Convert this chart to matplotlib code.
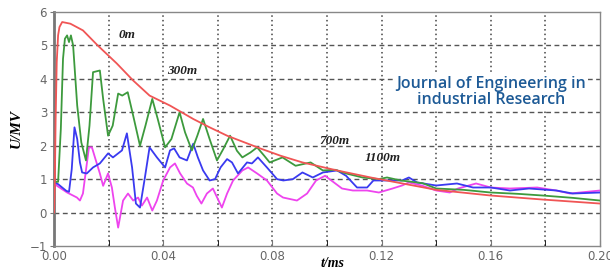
import matplotlib
matplotlib.use("Agg")
import matplotlib.pyplot as plt
import numpy as np

# ---------------- data ----------------
t_red = [0.0, 0.0003, 0.0006, 0.001, 0.0015, 0.002, 0.003, 0.006, 0.0106, 0.016, 0.023,
         0.029, 0.035, 0.0425, 0.051, 0.057, 0.0634, 0.0755, 0.083, 0.091, 0.1037,
         0.116, 0.127, 0.14, 0.16, 0.179, 0.2]
u_red = [0.0, 0.9, 2.8, 4.5, 5.3, 5.55, 5.7, 5.65, 5.45, 5.0, 4.46,
         3.95, 3.5, 3.2, 2.8, 2.55, 2.3, 1.92, 1.7, 1.5, 1.26,
         1.05, 0.88, 0.68, 0.51, 0.39, 0.27]

t_green = [0.0, 0.0015, 0.0025, 0.0033, 0.004, 0.0048, 0.0055, 0.0062, 0.007, 0.0085,
           0.010, 0.0117, 0.013, 0.0143, 0.0168, 0.018, 0.0198, 0.0215, 0.0235, 0.025,
           0.027, 0.029, 0.0315, 0.0335, 0.036, 0.038, 0.0407, 0.043, 0.046, 0.048,
           0.0505, 0.0525, 0.0546, 0.057, 0.0597, 0.062, 0.0645, 0.067, 0.069, 0.072,
           0.0744, 0.077, 0.079, 0.0837, 0.0885, 0.094, 0.0985, 0.103, 0.107, 0.113,
           0.119, 0.122, 0.127, 0.135, 0.14, 0.15, 0.16, 0.17, 0.179, 0.19, 0.2]
u_green = [0.92, 0.92, 2.5, 4.6, 5.2, 5.3, 5.1, 5.3, 5.0, 3.2,
           2.1, 1.56, 2.6, 4.2, 4.25, 3.4, 2.3, 2.6, 3.56, 3.5,
           3.6, 2.9, 2.0, 2.6, 3.4, 2.8, 1.95, 2.2, 3.0, 2.4,
           1.86, 2.3, 2.8, 2.2, 1.56, 1.9, 2.3, 1.85, 1.65, 1.8,
           1.95, 1.7, 1.5, 1.65, 1.4, 1.5, 1.26, 1.28, 1.17, 1.05,
           1.0, 1.05, 0.96, 0.88, 0.72, 0.68, 0.6, 0.56, 0.51, 0.44, 0.36]

t_blue = [0.0, 0.0015, 0.0045, 0.0055, 0.0065, 0.0075, 0.0085, 0.0095, 0.0103, 0.012,
          0.0143, 0.0168, 0.0198, 0.0216, 0.0249, 0.0267, 0.0286, 0.030, 0.0315, 0.0333,
          0.035, 0.0377, 0.0407, 0.0425, 0.044, 0.046, 0.0487, 0.051, 0.0527, 0.0546,
          0.057, 0.0590, 0.061, 0.0634, 0.0652, 0.0674, 0.0707, 0.0725, 0.0747, 0.078,
          0.0817, 0.084, 0.0875, 0.091, 0.0948, 0.0985, 0.1037, 0.107, 0.111, 0.1147,
          0.117, 0.122, 0.1275, 0.13, 0.1330, 0.14, 0.1476, 0.1535, 0.16, 0.167,
          0.174, 0.184, 0.190, 0.2]
u_blue = [0.92, 0.85, 0.65, 0.62, 1.3, 2.55, 2.2, 1.5, 1.2, 1.17,
          1.35, 1.47, 1.77, 1.65, 1.86, 2.37, 1.35, 0.27, 0.15, 1.05,
          1.95, 1.65, 1.35, 1.86, 1.92, 1.65, 1.56, 2.06, 1.65, 1.26,
          0.96, 1.0, 1.35, 1.6, 1.5, 1.17, 1.5, 1.47, 1.65, 1.35,
          1.0, 0.96, 1.0, 1.2, 1.05, 1.2, 1.26, 1.1, 0.75, 0.75,
          0.96, 0.96, 0.96, 1.05, 0.9, 0.81, 0.87, 0.75, 0.75, 0.66,
          0.72, 0.66, 0.57, 0.6]

t_mag = [0.0, 0.0011, 0.0048, 0.0084, 0.0095, 0.0106, 0.0117, 0.0128, 0.0139, 0.015,
         0.0168, 0.018, 0.0198, 0.0212, 0.0223, 0.0235, 0.0253, 0.0271, 0.029, 0.0308,
         0.0322, 0.0341, 0.036, 0.0377, 0.04, 0.0425, 0.0443, 0.0462, 0.0487, 0.0509,
         0.0523, 0.054, 0.0560, 0.0582, 0.0615, 0.0634, 0.0656, 0.069, 0.0711, 0.0744,
         0.0780, 0.0817, 0.0839, 0.089, 0.0927, 0.096, 0.0993, 0.1055, 0.1095, 0.1147,
         0.119, 0.124, 0.1275, 0.13, 0.135, 0.14, 0.145, 0.148, 0.1546, 0.16,
         0.167, 0.177, 0.184, 0.189, 0.2]
u_mag = [0.95, 0.8, 0.6, 0.45, 0.36, 0.57, 1.26, 1.95, 1.95, 1.65,
         1.17, 0.8, 1.17, 0.75, 0.15, -0.45, 0.36, 0.57, 0.36, 0.45,
         0.21, 0.45, 0.06, 0.36, 0.96, 1.35, 1.47, 1.17, 0.87, 0.75,
         0.5, 0.27, 0.57, 0.72, 0.15, 0.57, 0.96, 1.26, 1.35, 1.17,
         0.96, 0.57, 0.45, 0.36, 0.57, 0.96, 1.1, 0.72, 0.66, 0.66,
         0.6, 0.72, 0.81, 0.9, 0.8, 0.66, 0.6, 0.72, 0.87, 0.75,
         0.72, 0.75, 0.66, 0.57, 0.66]

labels = ["0m", "300m", "700m", "1100m"]
label_t = [0.0267, 0.047, 0.1026, 0.1205]
label_u = [5.3, 4.25, 2.15, 1.62]

xticks = [0.0, 0.04, 0.08, 0.12, 0.16, 0.20]
xtick_labels = ["0.00", "0.04", "0.08", "0.12", "0.16", "0.20"]
yticks = [-1, 0, 1, 2, 3, 4, 5, 6]

# ---------------- figure ----------------
fig = plt.figure(figsize=(6.1, 2.69), dpi=100)
ax = fig.add_axes([54 / 610, 1 - 246 / 269, 546 / 610, 234 / 269])

ax.set_xlim(0, 0.2)
ax.set_ylim(-1, 6)

# grid
for xv in np.arange(0.02, 0.2, 0.02):
    ax.axvline(xv, color="#444444", lw=1.1, ls=(0, (1, 2)), zorder=1)
for yv in range(0, 6):
    ax.axhline(yv, color="#555555", lw=1.0, ls=(0, (3.5, 2.5)), zorder=1)

ax.plot(t_mag, u_mag, color="#ee44ee", lw=1.3, zorder=3)
ax.plot(t_blue, u_blue, color="#3a3af0", lw=1.3, zorder=4)
ax.plot(t_green, u_green, color="#3d9a3d", lw=1.3, zorder=5)
ax.plot(t_red, u_red, color="#f05555", lw=1.3, zorder=6)

for s, tx, uy in zip(labels, label_t, label_u):
    ax.text(tx, uy, s, fontsize=9.5, fontweight="bold", fontstyle="italic",
            family="Liberation Serif", ha="center", va="center", color="#222222", zorder=7)

ax.text(0.160, 3.62, "Journal of Engineering in\nindustrial Research",
        fontsize=11.5, family="Open Sans", fontweight=600, color="#1d5a96",
        ha="center", va="center", linespacing=1.0, zorder=8,
        bbox=dict(facecolor="white", edgecolor="none", pad=1.5))

ax.set_xticks(xticks)
ax.set_xticklabels(xtick_labels)
ax.set_xticks(np.arange(0.02, 0.2, 0.04), minor=True)
ax.set_yticks(yticks)
ax.tick_params(axis="both", labelsize=8.5, labelcolor="#666666", color="#777777")
ax.tick_params(axis="x", direction="in", length=4, pad=3)
ax.tick_params(axis="x", which="minor", direction="in", length=4)
ax.tick_params(axis="y", direction="out", length=3, pad=2)

for side in ["top", "right", "bottom"]:
    ax.spines[side].set_color("#888888")
    ax.spines[side].set_linewidth(1.0)
ax.spines["left"].set_color("#777777")
ax.spines["left"].set_linewidth(2.0)

ax.set_ylabel("U/MV", fontsize=11, fontweight="bold", fontstyle="italic",
              family="Liberation Serif", labelpad=5)
fig.text(0.545, -0.005, "t/ms", fontsize=10, fontweight="bold", fontstyle="italic",
         family="Liberation Serif", ha="center", va="bottom")

fig.savefig("out.png", dpi=100)
